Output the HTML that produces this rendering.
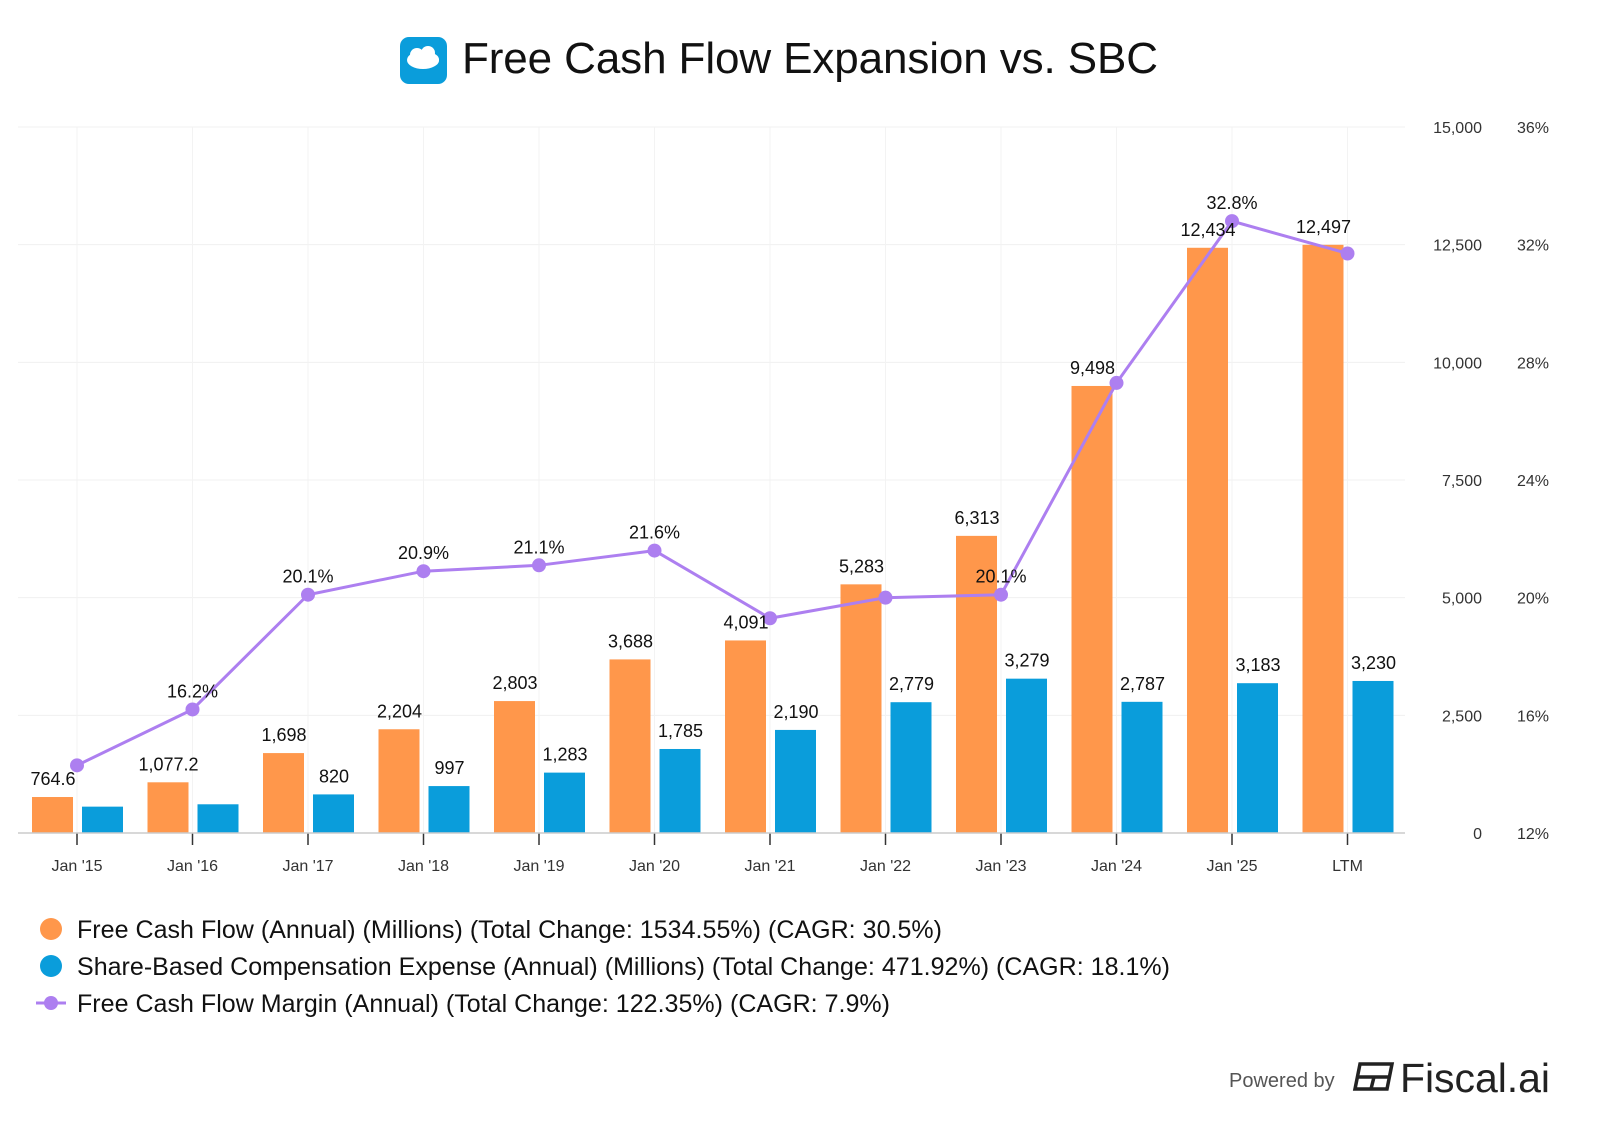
<!DOCTYPE html>
<html><head><meta charset="utf-8"><style>
body{margin:0;background:#fff;font-family:"Liberation Sans",Arial,sans-serif;}
svg{display:block}
</style></head><body>
<svg id="c" width="1600" height="1134" xmlns="http://www.w3.org/2000/svg">
<g>
<rect x="400" y="37" width="47" height="47" rx="9" fill="#0a9ddb"/>
<ellipse cx="423" cy="60" rx="16" ry="9" fill="#fff"/>
<circle cx="417" cy="55" r="7" fill="#fff"/><circle cx="428" cy="53" r="7" fill="#fff"/><circle cx="433" cy="60" r="6" fill="#fff"/>
<text x="462" y="73" font-size="44" fill="#111" textLength="696">Free Cash Flow Expansion vs. SBC</text>
</g>
<g id="grid"></g><g id="bars"></g><g id="line"></g><g id="labels"></g><g id="axes"></g>
<g font-size="25" fill="#111">
<g><circle cx="51" cy="929" r="11" fill="#ff974b"/><text x="77" y="938" textLength="865">Free Cash Flow (Annual) (Millions) (Total Change: 1534.55%) (CAGR: 30.5%)</text></g>
<g><circle cx="51" cy="966" r="11" fill="#0a9ddb"/><text x="77" y="975" textLength="1093">Share-Based Compensation Expense (Annual) (Millions) (Total Change: 471.92%) (CAGR: 18.1%)</text></g>
<g><line x1="36" y1="1003" x2="66" y2="1003" stroke="#ad7ff0" stroke-width="3"/><circle cx="51" cy="1003" r="7" fill="#ad7ff0"/><text x="77" y="1012" textLength="813">Free Cash Flow Margin (Annual) (Total Change: 122.35%) (CAGR: 7.9%)</text></g>
</g>
<g>
<text x="1229" y="1087" font-size="20" fill="#555">Powered by</text>
<g fill="none" stroke="#222" stroke-width="3.5"><path d="M1360 1064 h32 l-5 25 h-32 z"/><line x1="1358" y1="1077" x2="1390" y2="1077"/><line x1="1374" y1="1077" x2="1371" y2="1089"/></g>
<text x="1400" y="1092" font-size="41" fill="#222" textLength="150">Fiscal.ai</text>
</g>
</svg>
<script>
const categories=["Jan '15","Jan '16","Jan '17","Jan '18","Jan '19","Jan '20","Jan '21","Jan '22","Jan '23","Jan '24","Jan '25","LTM"];
const fcf=[764.6,1077.2,1698,2204,2803,3688,4091,5283,6313,9498,12434,12497];
const fcfLabels=["764.6","1,077.2","1,698","2,204","2,803","3,688","4,091","5,283","6,313","9,498","12,434","12,497"];
const sbc=[560,610,820,997,1283,1785,2190,2779,3279,2787,3183,3230];
const sbcLabels=["","","820","997","1,283","1,785","2,190","2,779","3,279","2,787","3,183","3,230"];
const margin=[14.3,16.2,20.1,20.9,21.1,21.6,19.3,20.0,20.1,27.3,32.8,31.7];
const marginLabels=["","16.2%","20.1%","20.9%","21.1%","21.6%","","","20.1%","","32.8%",""];
const leftTicks=[0,2500,5000,7500,10000,12500,15000];
const rightTicks=[12,16,20,24,28,32,36];
const NS="http://www.w3.org/2000/svg";
const X0=18,X1=1405,Y0=833,Y1=127;
const xc=i=>77+i*115.5;
const yL=v=>Y0-(v/15000)*(Y0-Y1);
const yR=v=>Y0-((v-12)/24)*(Y0-Y1);
function mk(tag,attrs,parent,text){const e=document.createElementNS(NS,tag);for(const k in attrs)e.setAttribute(k,attrs[k]);if(text!==undefined)e.textContent=text;parent.appendChild(e);return e;}
const grid=document.getElementById('grid'),bars=document.getElementById('bars'),line=document.getElementById('line'),labels=document.getElementById('labels'),axes=document.getElementById('axes');
leftTicks.forEach((t,i)=>{
  if(t>0){const g=mk('line',{x1:X0,x2:X1,y1:yL(t),y2:yL(t),stroke:'#f0f0f0','stroke-width':1},grid);
  
  }
  const a=mk('text',{x:1482,y:yL(t)+6,'font-size':16,fill:'#333','text-anchor':'end'},axes,t.toLocaleString('en-US'));
  
  
  const b=mk('text',{x:1549,y:yR(rightTicks[i])+6,'font-size':16,fill:'#333','text-anchor':'end'},axes,rightTicks[i]+'%');
  
  
});
categories.forEach((c,i)=>{
  const g=mk('line',{x1:xc(i),x2:xc(i),y1:Y1,y2:Y0,stroke:'#f3f3f3'},grid);
  
  
  const tk=mk('line',{x1:xc(i),x2:xc(i),y1:Y0,y2:Y0+12,stroke:'#333','stroke-width':1.5},axes);
  
  
  const t=mk('text',{x:xc(i),y:871,'font-size':16,fill:'#333','text-anchor':'middle'},axes,c);
  
  
  const r1=mk('rect',{x:xc(i)-45,y:yL(fcf[i]),width:41,height:Y0-yL(fcf[i]),fill:'#ff974b'},bars);
  
  
  const r2=mk('rect',{x:xc(i)+5,y:yL(sbc[i]),width:41,height:Y0-yL(sbc[i]),fill:'#0a9ddb'},bars);
  
  
  const l1=mk('text',{x:xc(i)-24,y:yL(fcf[i])-12,'font-size':18,fill:'#111','text-anchor':'middle'},labels,fcfLabels[i]);
  
  
  if(sbcLabels[i]){const l2=mk('text',{x:xc(i)+26,y:yL(sbc[i])-12,'font-size':18,fill:'#111','text-anchor':'middle'},labels,sbcLabels[i]);
  
  }
  if(marginLabels[i]){const l3=mk('text',{x:xc(i),y:yR(margin[i])-12,'font-size':18,fill:'#111','text-anchor':'middle'},labels,marginLabels[i]);
  
  }
});
const base=mk('line',{x1:X0,x2:X1,y1:Y0,y2:Y0,stroke:'#ccc','stroke-width':1.5},axes);


const p=mk('polyline',{points:margin.map((m,i)=>xc(i)+','+yR(m)).join(' '),fill:'none',stroke:'#ad7ff0','stroke-width':3},line);


margin.forEach((m,i)=>{const d=mk('circle',{cx:xc(i),cy:yR(m),r:7,fill:'#ad7ff0'},line);
  
  });
</script>
</body></html>
